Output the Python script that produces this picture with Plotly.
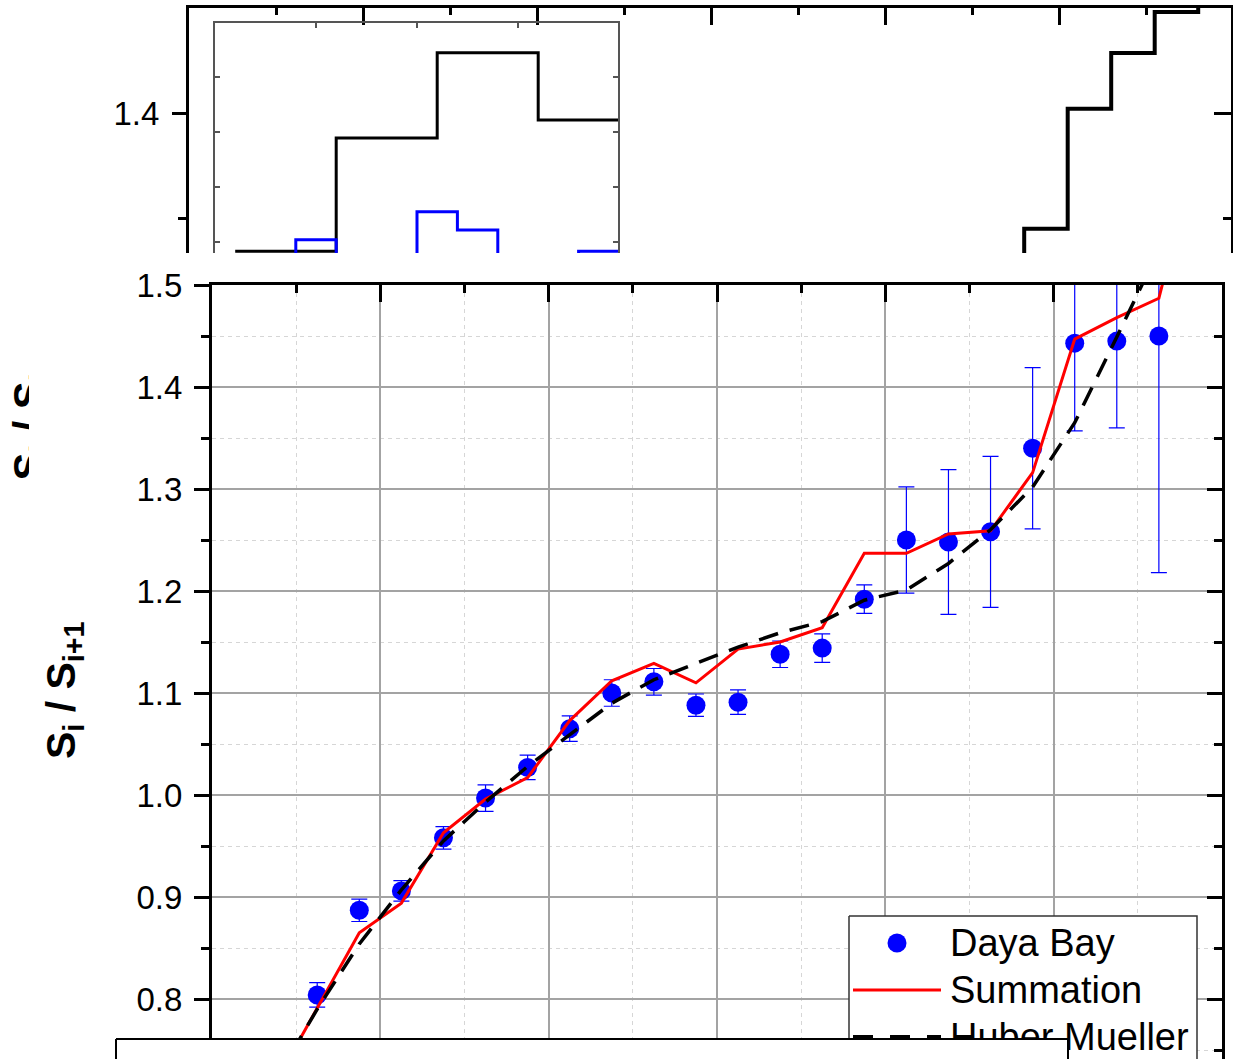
import plotly.graph_objects as go

# ---------------- data ----------------
energy = [2.625, 2.875, 3.125, 3.375, 3.625, 3.875, 4.125, 4.375, 4.625, 4.875, 5.125,
          5.375, 5.625, 5.875, 6.125, 6.375, 6.625, 6.875, 7.125, 7.375, 7.625]
daya_bay = [0.804, 0.887, 0.906, 0.958, 0.997, 1.027, 1.065, 1.100, 1.111, 1.088, 1.091,
            1.138, 1.144, 1.192, 1.250, 1.248, 1.258, 1.340, 1.443, 1.445, 1.450]
daya_bay_err = [0.012, 0.011, 0.010, 0.011, 0.013, 0.012, 0.0125, 0.013, 0.013, 0.011, 0.012,
                0.013, 0.014, 0.014, 0.052, 0.071, 0.074, 0.079, 0.086, 0.085, 0.232]

model_energy = [2.375, 2.625, 2.875, 3.125, 3.375, 3.625, 3.875, 4.125, 4.375, 4.625, 4.875, 5.125,
                5.375, 5.625, 5.875, 6.125, 6.375, 6.625, 6.875, 7.125, 7.375, 7.625, 7.875]
summation = [0.717, 0.791, 0.865, 0.894, 0.963, 0.996, 1.017, 1.073, 1.112, 1.129, 1.110, 1.143,
             1.150, 1.164, 1.237, 1.237, 1.256, 1.259, 1.316, 1.447, 1.468, 1.487, 1.650]
huber_mueller = [0.720, 0.790, 0.854, 0.907, 0.955, 0.993, 1.028, 1.059, 1.090, 1.113, 1.129, 1.145,
                 1.159, 1.170, 1.191, 1.201, 1.227, 1.260, 1.302, 1.365, 1.449, 1.534, 1.620]

series_names = ["Daya Bay", "Summation", "Huber Mueller"]
y_title = "S<sub>i</sub> / S<sub>i+1</sub>"
main_yticks = [0.8, 0.9, 1.0, 1.1, 1.2, 1.3, 1.4, 1.5]

# cropped upper panel (step histogram)
upper_edges = [4.55, 4.80, 5.05, 5.30, 5.55, 5.80, 6.05]
upper_values = [1.300, 1.345, 1.402, 1.4285, 1.448, 1.470, 1.470]

# small inset inside the upper panel
inset_black_edges = [0.2, 1.2, 2.2, 3.2, 4.2]
inset_black_values = [0.83, 2.89, 4.44, 3.22, 3.22]
inset_blue_edges = [0.4, 0.8, 1.2, 1.6, 2.0, 2.4, 2.8, 3.2, 3.6, 4.0, 4.4]
inset_blue_values = [0.60, 1.04, 0.60, 0.60, 1.55, 1.22, 0.60, 0.60, 0.83, 0.83, 0.83]

# ---------------- layout helpers ----------------
W, H = 1233, 1059
FONT = "Liberation Sans, Arial, sans-serif"


def fx(p):
    return p / W


def fy(p):
    return 1 - p / H


BLUE, RED = "#0000ff", "#ff0000"

fig = go.Figure()

# ---- main panel data ----
fig.add_trace(go.Scatter(
    x=energy, y=daya_bay, mode="markers", name=series_names[0],
    marker=dict(color=BLUE, size=19),
    error_y=dict(type="data", array=daya_bay_err, color=BLUE, thickness=1.2, width=8),
    xaxis="x", yaxis="y", showlegend=False, cliponaxis=True))
fig.add_trace(go.Scatter(
    x=model_energy, y=summation, mode="lines", name=series_names[1],
    line=dict(color=RED, width=3), xaxis="x", yaxis="y", showlegend=False))
fig.add_trace(go.Scatter(
    x=model_energy, y=huber_mueller, mode="lines", name=series_names[2],
    line=dict(color="black", width=3.5, dash="20px,12px"), xaxis="x", yaxis="y", showlegend=False))

# dummy traces so the overlay axes get drawn
fig.add_trace(go.Scatter(x=[], y=[], xaxis="x2", yaxis="y", showlegend=False, hoverinfo="skip"))
fig.add_trace(go.Scatter(x=[], y=[], xaxis="x", yaxis="y2", showlegend=False, hoverinfo="skip"))

# ---- upper (cropped) panel ----
fig.add_trace(go.Scatter(
    x=upper_edges, y=upper_values, mode="lines", line=dict(color="black", width=4, shape="hv"),
    xaxis="x3", yaxis="y3", showlegend=False, hoverinfo="skip"))
fig.add_trace(go.Scatter(x=[], y=[], xaxis="x3", yaxis="y4", showlegend=False, hoverinfo="skip"))

# ---- inset ----
fig.add_trace(go.Scatter(
    x=inset_black_edges, y=inset_black_values, mode="lines",
    line=dict(color="black", width=3, shape="hv"),
    xaxis="x4", yaxis="y5", showlegend=False, hoverinfo="skip"))
fig.add_trace(go.Scatter(
    x=inset_blue_edges, y=inset_blue_values, mode="lines",
    line=dict(color=BLUE, width=3, shape="hv"),
    xaxis="x4", yaxis="y5", showlegend=False, hoverinfo="skip"))

# ---- clipped title fragment of the upper panel ----
fig.add_trace(go.Bar(
    x=[31], y=[220], base=[300], width=[60], text=[y_title],
    textposition="inside", insidetextanchor="middle", textangle=-90, constraintext="none",
    insidetextfont=dict(family=FONT, size=42, color="black", weight="bold"),
    marker=dict(color="rgba(0,0,0,0)", line=dict(width=0)),
    cliponaxis=True, xaxis="x5", yaxis="y6", showlegend=False, hoverinfo="skip"))

# ---- canvas layer: legend and white cover box ----
fig.add_trace(go.Scatter(
    x=[849, 1197, 1197, 849, 849], y=[916, 916, 1080, 1080, 916], mode="lines",
    fill="toself", fillcolor="white", line=dict(color="#333333", width=1.5),
    xaxis="x6", yaxis="y7", showlegend=False, hoverinfo="skip"))
fig.add_trace(go.Scatter(
    x=[897], y=[943], mode="markers", marker=dict(color=BLUE, size=19),
    xaxis="x6", yaxis="y7", showlegend=False, hoverinfo="skip"))
fig.add_trace(go.Scatter(
    x=[853, 941], y=[990, 990], mode="lines", line=dict(color=RED, width=3),
    xaxis="x6", yaxis="y7", showlegend=False, hoverinfo="skip"))
fig.add_trace(go.Scatter(
    x=[853, 941], y=[1037, 1037], mode="lines", line=dict(color="black", width=4, dash="20px,17px"),
    xaxis="x6", yaxis="y7", showlegend=False, hoverinfo="skip"))
fig.add_trace(go.Scatter(
    x=[950, 950, 950], y=[946, 993, 1040], mode="text", text=series_names,
    textposition="middle right", textfont=dict(family=FONT, size=38, color="black"),
    xaxis="x6", yaxis="y7", showlegend=False, hoverinfo="skip", cliponaxis=False))
fig.add_trace(go.Scatter(
    x=[116, 1068, 1068, 116, 116], y=[1039, 1039, 1090, 1090, 1039], mode="lines",
    fill="toself", fillcolor="white", line=dict(color="black", width=2),
    xaxis="x6", yaxis="y7", showlegend=False, hoverinfo="skip"))

# ---------------- axes ----------------
MAJ_GRID = "#a3a3a3"
MIN_GRID = "#d6d6d6"
tickfont = dict(family=FONT, size=33, color="black")

main_x_dom = [fx(212), fx(1222)]
main_y_dom = [0, fy(285)]
main_x_rng = [2, 8]
main_y_rng = [1.5 - (H - 285) / 1020.0, 1.5]

upper_x_dom = [fx(189), fx(1231)]
upper_y_dom = [fy(253), fy(8)]
upper_x_rng = [0, (1231 - 189) / 174.0]
upper_y_rng = [1.4 - 140 * 0.05 / 105.3, 1.4 + 105 * 0.05 / 105.3]

inset_x_dom = [fx(215), fx(618)]
inset_y_dom = [fy(253), fy(23)]

common = dict(automargin=False, zeroline=False)

fig.update_layout(
    template="none",
    width=W, height=H, margin=dict(l=0, r=0, t=0, b=0, pad=0), autosize=False,
    paper_bgcolor="white", plot_bgcolor="rgba(0,0,0,0)",
    hovermode=False, showlegend=False,
    font=dict(family=FONT, color="black"),
    # main panel
    xaxis=dict(domain=main_x_dom, range=main_x_rng, anchor="y", showline=False, ticks="",
               showticklabels=False, dtick=1, tick0=0,
               showgrid=True, gridcolor=MAJ_GRID, gridwidth=1.5,
               minor=dict(dtick=0.5, tick0=0, showgrid=True, gridcolor=MIN_GRID, gridwidth=1,
                          griddash="4px,4px"), **common),
    yaxis=dict(domain=main_y_dom, range=main_y_rng, anchor="x", showline=True, linecolor="black",
               linewidth=3, ticks="outside", ticklen=15, tickwidth=3, tickcolor="black",
               tickvals=main_yticks, tickformat=".1f", tickfont=tickfont, ticklabelstandoff=5,
               showgrid=True, gridcolor=MAJ_GRID, gridwidth=1.5,
               minor=dict(dtick=0.05, tick0=0, ticks="outside", ticklen=8, tickwidth=3,
                          tickcolor="black", showgrid=True, gridcolor=MIN_GRID, gridwidth=1,
                          griddash="4px,4px"), **common),
    xaxis2=dict(overlaying="x", side="top", anchor="y", range=main_x_rng, showline=True,
                linecolor="black", linewidth=3, ticks="inside", ticklen=17, tickwidth=3,
                tickcolor="black", dtick=1, tick0=0, showticklabels=False, showgrid=False,
                minor=dict(dtick=0.5, tick0=0, ticks="inside", ticklen=8, tickwidth=3,
                           tickcolor="black", showgrid=False), **common),
    yaxis2=dict(overlaying="y", side="right", anchor="x", range=main_y_rng, showline=True,
                linecolor="black", linewidth=3, ticks="inside", ticklen=15, tickwidth=3,
                tickcolor="black", dtick=0.1, tick0=0, showticklabels=False, showgrid=False,
                minor=dict(dtick=0.05, tick0=0, ticks="inside", ticklen=8, tickwidth=3,
                           tickcolor="black", showgrid=False), **common),
    # upper cropped panel
    xaxis3=dict(domain=upper_x_dom, range=upper_x_rng, anchor="y3", side="top", showline=True,
                linecolor="black", linewidth=3, ticks="inside", ticklen=17, tickwidth=3,
                tickcolor="black", dtick=1, tick0=0, showticklabels=False, showgrid=False,
                minor=dict(dtick=0.5, tick0=0, ticks="inside", ticklen=7, tickwidth=3,
                           tickcolor="black", showgrid=False), **common),
    yaxis3=dict(domain=upper_y_dom, range=upper_y_rng, anchor="x3", showline=True,
                linecolor="black", linewidth=3, ticks="outside", ticklen=14, tickwidth=3,
                tickcolor="black", dtick=0.1, tick0=0, tickformat=".1f", tickfont=tickfont,
                ticklabelstandoff=6, showgrid=False,
                minor=dict(dtick=0.05, tick0=0, ticks="outside", ticklen=8, tickwidth=3,
                           tickcolor="black", showgrid=False), **common),
    yaxis4=dict(overlaying="y3", side="right", anchor="x3", range=upper_y_rng, showline=True,
                linecolor="black", linewidth=3, ticks="inside", ticklen=17, tickwidth=3,
                tickcolor="black", dtick=0.1, tick0=0, showticklabels=False, showgrid=False,
                minor=dict(dtick=0.05, tick0=0, ticks="inside", ticklen=8, tickwidth=3,
                           tickcolor="black", showgrid=False), **common),
    # inset
    xaxis4=dict(domain=inset_x_dom, range=[0, 403 / 101.0], anchor="y5", side="top",
                showline=True, linecolor="#555555", linewidth=1.5, ticks="inside", ticklen=5,
                tickwidth=1.5, tickcolor="#555555", dtick=1, tick0=0, showticklabels=False,
                showgrid=False, **common),
    yaxis5=dict(domain=inset_y_dom, range=[0.8, 1 + (242 - 23) / 55.0], anchor="x4",
                showline=True, mirror="ticks", linecolor="#555555", linewidth=1.5,
                ticks="inside", ticklen=5, tickwidth=1.5, tickcolor="#555555", dtick=1, tick0=0,
                showticklabels=False, showgrid=False, **common),
    # clipped title fragment
    xaxis5=dict(domain=[0, fx(29)], range=[0, 29], anchor="y6", visible=False, **common),
    yaxis6=dict(domain=[fy(540), fy(280)], range=[540, 280], anchor="x5", visible=False, **common),
    # canvas (pixel coordinates)
    xaxis6=dict(domain=[0, 1], range=[0, W], anchor="y7", visible=False, **common),
    yaxis7=dict(domain=[0, 1], range=[H, 0], anchor="x6", visible=False, **common),
)

fig.add_annotation(
    text=y_title, xref="paper", yref="paper", x=fx(64), y=fy(690),
    xanchor="center", yanchor="middle", textangle=-90, showarrow=False,
    font=dict(family=FONT, size=41, color="black", weight="bold"))

fig.write_html("out.html")
